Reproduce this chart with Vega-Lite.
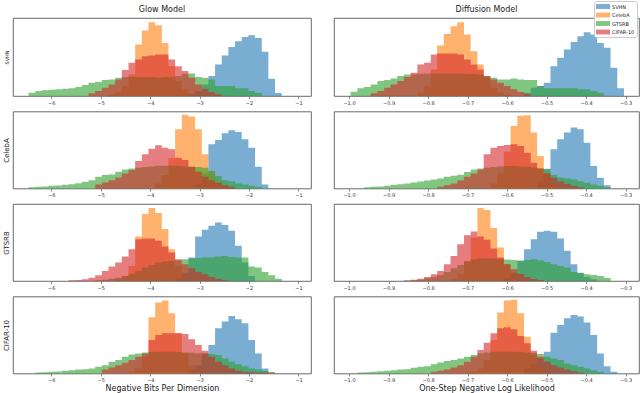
{
"$schema": "https://vega.github.io/schema/vega-lite/v6.json",
"padding": {"left": 1, "top": 0, "right": 0, "bottom": 0},
"background": "white",
"config": {
 "font": "DejaVu Sans",
 "view": {"stroke": "#444", "strokeWidth": 0.8},
 "axis": {"grid": false, "domain": false, "labelFontSize": 5, "labelColor": "#333", "tickSize": 2.5, "tickWidth": 0.6, "tickColor": "#444", "labelPadding": 1.5, "titleFontSize": 8, "titleFontWeight": "normal", "titleColor": "#222", "titlePadding": 1.5},
 "title": {"fontSize": 8, "fontWeight": "normal", "color": "#222", "offset": 4},
 "legend": {"orient": "none", "legendX": 581, "legendY": -17, "symbolType": "M-2,-0.7H2V0.7H-2Z", "symbolSize": 49, "symbolOpacity": 0.6, "symbolStrokeWidth": 0, "labelFontSize": 5, "labelColor": "#222", "labelOffset": 5.5, "symbolOffset": 3.5, "rowPadding": 1.5, "padding": 2, "fillColor": "white", "strokeColor": "#ccc", "cornerRadius": 2}
},
"datasets": {"h": [
{"p":"G1","x":-6.458,"SVHN":0,"CelebA":0,"GTSRB":10,"CIFAR-10":0},
{"p":"G1","x":-6.323,"SVHN":0,"CelebA":0,"GTSRB":15,"CIFAR-10":0},
{"p":"G1","x":-6.189,"SVHN":0,"CelebA":0,"GTSRB":17,"CIFAR-10":0},
{"p":"G1","x":-6.054,"SVHN":0,"CelebA":0,"GTSRB":19,"CIFAR-10":0},
{"p":"G1","x":-5.919,"SVHN":0,"CelebA":0,"GTSRB":20,"CIFAR-10":0},
{"p":"G1","x":-5.785,"SVHN":0,"CelebA":0,"GTSRB":22,"CIFAR-10":0},
{"p":"G1","x":-5.65,"SVHN":0,"CelebA":0,"GTSRB":23,"CIFAR-10":0},
{"p":"G1","x":-5.515,"SVHN":0,"CelebA":0,"GTSRB":27,"CIFAR-10":0},
{"p":"G1","x":-5.38,"SVHN":0,"CelebA":0,"GTSRB":33,"CIFAR-10":0},
{"p":"G1","x":-5.246,"SVHN":0,"CelebA":0,"GTSRB":40,"CIFAR-10":8},
{"p":"G1","x":-5.111,"SVHN":0,"CelebA":0,"GTSRB":43,"CIFAR-10":15},
{"p":"G1","x":-4.976,"SVHN":0,"CelebA":0,"GTSRB":48,"CIFAR-10":25},
{"p":"G1","x":-4.842,"SVHN":0,"CelebA":5,"GTSRB":50,"CIFAR-10":35},
{"p":"G1","x":-4.707,"SVHN":0,"CelebA":12,"GTSRB":55,"CIFAR-10":50},
{"p":"G1","x":-4.572,"SVHN":0,"CelebA":30,"GTSRB":57,"CIFAR-10":78},
{"p":"G1","x":-4.438,"SVHN":0,"CelebA":65,"GTSRB":57,"CIFAR-10":100},
{"p":"G1","x":-4.303,"SVHN":0,"CelebA":155,"GTSRB":57,"CIFAR-10":110},
{"p":"G1","x":-4.168,"SVHN":0,"CelebA":197,"GTSRB":57,"CIFAR-10":120},
{"p":"G1","x":-4.034,"SVHN":0,"CelebA":222,"GTSRB":57,"CIFAR-10":122},
{"p":"G1","x":-3.899,"SVHN":0,"CelebA":213,"GTSRB":56,"CIFAR-10":125},
{"p":"G1","x":-3.764,"SVHN":0,"CelebA":160,"GTSRB":57,"CIFAR-10":125},
{"p":"G1","x":-3.63,"SVHN":0,"CelebA":90,"GTSRB":57,"CIFAR-10":110},
{"p":"G1","x":-3.495,"SVHN":0,"CelebA":45,"GTSRB":60,"CIFAR-10":90},
{"p":"G1","x":-3.36,"SVHN":0,"CelebA":20,"GTSRB":67,"CIFAR-10":75},
{"p":"G1","x":-3.226,"SVHN":5,"CelebA":8,"GTSRB":68,"CIFAR-10":55},
{"p":"G1","x":-3.091,"SVHN":15,"CelebA":3,"GTSRB":57,"CIFAR-10":35},
{"p":"G1","x":-2.956,"SVHN":35,"CelebA":0,"GTSRB":55,"CIFAR-10":22},
{"p":"G1","x":-2.822,"SVHN":60,"CelebA":0,"GTSRB":50,"CIFAR-10":12},
{"p":"G1","x":-2.687,"SVHN":95,"CelebA":0,"GTSRB":30,"CIFAR-10":5},
{"p":"G1","x":-2.552,"SVHN":122,"CelebA":0,"GTSRB":30,"CIFAR-10":0},
{"p":"G1","x":-2.418,"SVHN":148,"CelebA":0,"GTSRB":30,"CIFAR-10":0},
{"p":"G1","x":-2.283,"SVHN":165,"CelebA":0,"GTSRB":23,"CIFAR-10":0},
{"p":"G1","x":-2.148,"SVHN":178,"CelebA":0,"GTSRB":23,"CIFAR-10":0},
{"p":"G1","x":-2.013,"SVHN":183,"CelebA":0,"GTSRB":15,"CIFAR-10":0},
{"p":"G1","x":-1.879,"SVHN":175,"CelebA":0,"GTSRB":10,"CIFAR-10":0},
{"p":"G1","x":-1.744,"SVHN":133,"CelebA":0,"GTSRB":0,"CIFAR-10":0},
{"p":"G1","x":-1.609,"SVHN":52,"CelebA":0,"GTSRB":0,"CIFAR-10":0},
{"p":"G1","x":-1.475,"SVHN":9,"CelebA":0,"GTSRB":0,"CIFAR-10":0},
{"p":"G1","x":-1.34,"SVHN":0,"CelebA":0,"GTSRB":0,"CIFAR-10":0},

{"p":"D1","x":-0.996,"SVHN":0,"CelebA":0,"GTSRB":13,"CIFAR-10":0},
{"p":"D1","x":-0.979,"SVHN":0,"CelebA":0,"GTSRB":23,"CIFAR-10":0},
{"p":"D1","x":-0.962,"SVHN":0,"CelebA":0,"GTSRB":27,"CIFAR-10":0},
{"p":"D1","x":-0.945,"SVHN":0,"CelebA":0,"GTSRB":35,"CIFAR-10":8},
{"p":"D1","x":-0.928,"SVHN":0,"CelebA":0,"GTSRB":45,"CIFAR-10":15},
{"p":"D1","x":-0.911,"SVHN":0,"CelebA":0,"GTSRB":48,"CIFAR-10":25},
{"p":"D1","x":-0.895,"SVHN":0,"CelebA":0,"GTSRB":53,"CIFAR-10":35},
{"p":"D1","x":-0.878,"SVHN":0,"CelebA":0,"GTSRB":60,"CIFAR-10":45},
{"p":"D1","x":-0.861,"SVHN":0,"CelebA":0,"GTSRB":65,"CIFAR-10":57},
{"p":"D1","x":-0.844,"SVHN":0,"CelebA":0,"GTSRB":65,"CIFAR-10":70},
{"p":"D1","x":-0.827,"SVHN":0,"CelebA":10,"GTSRB":67,"CIFAR-10":95},
{"p":"D1","x":-0.81,"SVHN":0,"CelebA":30,"GTSRB":68,"CIFAR-10":100},
{"p":"D1","x":-0.793,"SVHN":0,"CelebA":80,"GTSRB":68,"CIFAR-10":125},
{"p":"D1","x":-0.777,"SVHN":0,"CelebA":152,"GTSRB":68,"CIFAR-10":128},
{"p":"D1","x":-0.76,"SVHN":0,"CelebA":187,"GTSRB":68,"CIFAR-10":128},
{"p":"D1","x":-0.743,"SVHN":0,"CelebA":210,"GTSRB":68,"CIFAR-10":128},
{"p":"D1","x":-0.726,"SVHN":0,"CelebA":222,"GTSRB":67,"CIFAR-10":125},
{"p":"D1","x":-0.709,"SVHN":0,"CelebA":185,"GTSRB":67,"CIFAR-10":110},
{"p":"D1","x":-0.692,"SVHN":0,"CelebA":135,"GTSRB":66,"CIFAR-10":95},
{"p":"D1","x":-0.675,"SVHN":0,"CelebA":95,"GTSRB":65,"CIFAR-10":80},
{"p":"D1","x":-0.659,"SVHN":0,"CelebA":55,"GTSRB":60,"CIFAR-10":60},
{"p":"D1","x":-0.642,"SVHN":0,"CelebA":25,"GTSRB":55,"CIFAR-10":50},
{"p":"D1","x":-0.625,"SVHN":0,"CelebA":10,"GTSRB":50,"CIFAR-10":40},
{"p":"D1","x":-0.608,"SVHN":0,"CelebA":4,"GTSRB":50,"CIFAR-10":30},
{"p":"D1","x":-0.591,"SVHN":0,"CelebA":0,"GTSRB":53,"CIFAR-10":20},
{"p":"D1","x":-0.574,"SVHN":0,"CelebA":0,"GTSRB":50,"CIFAR-10":12},
{"p":"D1","x":-0.557,"SVHN":10,"CelebA":0,"GTSRB":48,"CIFAR-10":6},
{"p":"D1","x":-0.54,"SVHN":25,"CelebA":0,"GTSRB":48,"CIFAR-10":0},
{"p":"D1","x":-0.524,"SVHN":30,"CelebA":0,"GTSRB":30,"CIFAR-10":0},
{"p":"D1","x":-0.507,"SVHN":40,"CelebA":0,"GTSRB":23,"CIFAR-10":0},
{"p":"D1","x":-0.49,"SVHN":90,"CelebA":0,"GTSRB":23,"CIFAR-10":0},
{"p":"D1","x":-0.473,"SVHN":115,"CelebA":0,"GTSRB":23,"CIFAR-10":0},
{"p":"D1","x":-0.456,"SVHN":140,"CelebA":0,"GTSRB":23,"CIFAR-10":0},
{"p":"D1","x":-0.439,"SVHN":163,"CelebA":0,"GTSRB":23,"CIFAR-10":0},
{"p":"D1","x":-0.422,"SVHN":180,"CelebA":0,"GTSRB":20,"CIFAR-10":0},
{"p":"D1","x":-0.406,"SVHN":192,"CelebA":0,"GTSRB":20,"CIFAR-10":0},
{"p":"D1","x":-0.389,"SVHN":185,"CelebA":0,"GTSRB":15,"CIFAR-10":0},
{"p":"D1","x":-0.372,"SVHN":160,"CelebA":0,"GTSRB":10,"CIFAR-10":0},
{"p":"D1","x":-0.355,"SVHN":145,"CelebA":0,"GTSRB":0,"CIFAR-10":0},
{"p":"D1","x":-0.338,"SVHN":85,"CelebA":0,"GTSRB":0,"CIFAR-10":0},
{"p":"D1","x":-0.321,"SVHN":23,"CelebA":0,"GTSRB":0,"CIFAR-10":0},
{"p":"D1","x":-0.304,"SVHN":0,"CelebA":0,"GTSRB":0,"CIFAR-10":0},

{"p":"G2","x":-6.458,"SVHN":0,"CelebA":0,"GTSRB":4,"CIFAR-10":0},
{"p":"G2","x":-6.323,"SVHN":0,"CelebA":0,"GTSRB":5,"CIFAR-10":0},
{"p":"G2","x":-6.189,"SVHN":0,"CelebA":0,"GTSRB":6,"CIFAR-10":0},
{"p":"G2","x":-6.054,"SVHN":0,"CelebA":0,"GTSRB":8,"CIFAR-10":0},
{"p":"G2","x":-5.919,"SVHN":0,"CelebA":0,"GTSRB":9,"CIFAR-10":0},
{"p":"G2","x":-5.785,"SVHN":0,"CelebA":0,"GTSRB":11,"CIFAR-10":0},
{"p":"G2","x":-5.65,"SVHN":0,"CelebA":0,"GTSRB":13,"CIFAR-10":0},
{"p":"G2","x":-5.515,"SVHN":0,"CelebA":0,"GTSRB":16,"CIFAR-10":0},
{"p":"G2","x":-5.38,"SVHN":0,"CelebA":0,"GTSRB":20,"CIFAR-10":0},
{"p":"G2","x":-5.246,"SVHN":0,"CelebA":0,"GTSRB":25,"CIFAR-10":0},
{"p":"G2","x":-5.111,"SVHN":0,"CelebA":0,"GTSRB":35,"CIFAR-10":12},
{"p":"G2","x":-4.976,"SVHN":0,"CelebA":0,"GTSRB":40,"CIFAR-10":18},
{"p":"G2","x":-4.842,"SVHN":0,"CelebA":0,"GTSRB":42,"CIFAR-10":25},
{"p":"G2","x":-4.707,"SVHN":0,"CelebA":0,"GTSRB":50,"CIFAR-10":33},
{"p":"G2","x":-4.572,"SVHN":0,"CelebA":0,"GTSRB":57,"CIFAR-10":45},
{"p":"G2","x":-4.438,"SVHN":0,"CelebA":0,"GTSRB":60,"CIFAR-10":55},
{"p":"G2","x":-4.303,"SVHN":0,"CelebA":0,"GTSRB":62,"CIFAR-10":82},
{"p":"G2","x":-4.168,"SVHN":0,"CelebA":0,"GTSRB":64,"CIFAR-10":102},
{"p":"G2","x":-4.034,"SVHN":0,"CelebA":0,"GTSRB":66,"CIFAR-10":119},
{"p":"G2","x":-3.899,"SVHN":0,"CelebA":15,"GTSRB":68,"CIFAR-10":129},
{"p":"G2","x":-3.764,"SVHN":0,"CelebA":40,"GTSRB":68,"CIFAR-10":122},
{"p":"G2","x":-3.63,"SVHN":0,"CelebA":90,"GTSRB":68,"CIFAR-10":117},
{"p":"G2","x":-3.495,"SVHN":0,"CelebA":177,"GTSRB":67,"CIFAR-10":92},
{"p":"G2","x":-3.36,"SVHN":0,"CelebA":220,"GTSRB":66,"CIFAR-10":85},
{"p":"G2","x":-3.226,"SVHN":0,"CelebA":215,"GTSRB":65,"CIFAR-10":65},
{"p":"G2","x":-3.091,"SVHN":15,"CelebA":177,"GTSRB":64,"CIFAR-10":50},
{"p":"G2","x":-2.956,"SVHN":45,"CelebA":102,"GTSRB":62,"CIFAR-10":35},
{"p":"G2","x":-2.822,"SVHN":132,"CelebA":50,"GTSRB":52,"CIFAR-10":25},
{"p":"G2","x":-2.687,"SVHN":145,"CelebA":20,"GTSRB":37,"CIFAR-10":17},
{"p":"G2","x":-2.552,"SVHN":165,"CelebA":8,"GTSRB":25,"CIFAR-10":10},
{"p":"G2","x":-2.418,"SVHN":174,"CelebA":0,"GTSRB":22,"CIFAR-10":5},
{"p":"G2","x":-2.283,"SVHN":169,"CelebA":0,"GTSRB":15,"CIFAR-10":0},
{"p":"G2","x":-2.148,"SVHN":147,"CelebA":0,"GTSRB":12,"CIFAR-10":0},
{"p":"G2","x":-2.013,"SVHN":122,"CelebA":0,"GTSRB":8,"CIFAR-10":0},
{"p":"G2","x":-1.879,"SVHN":65,"CelebA":0,"GTSRB":5,"CIFAR-10":0},
{"p":"G2","x":-1.744,"SVHN":12,"CelebA":0,"GTSRB":0,"CIFAR-10":0},
{"p":"G2","x":-1.609,"SVHN":0,"CelebA":0,"GTSRB":0,"CIFAR-10":0},

{"p":"D2","x":-0.962,"SVHN":0,"CelebA":0,"GTSRB":4,"CIFAR-10":0},
{"p":"D2","x":-0.945,"SVHN":0,"CelebA":0,"GTSRB":5,"CIFAR-10":0},
{"p":"D2","x":-0.928,"SVHN":0,"CelebA":0,"GTSRB":6,"CIFAR-10":0},
{"p":"D2","x":-0.911,"SVHN":0,"CelebA":0,"GTSRB":8,"CIFAR-10":0},
{"p":"D2","x":-0.895,"SVHN":0,"CelebA":0,"GTSRB":11,"CIFAR-10":0},
{"p":"D2","x":-0.878,"SVHN":0,"CelebA":0,"GTSRB":13,"CIFAR-10":0},
{"p":"D2","x":-0.861,"SVHN":0,"CelebA":0,"GTSRB":15,"CIFAR-10":0},
{"p":"D2","x":-0.844,"SVHN":0,"CelebA":0,"GTSRB":18,"CIFAR-10":0},
{"p":"D2","x":-0.827,"SVHN":0,"CelebA":0,"GTSRB":21,"CIFAR-10":0},
{"p":"D2","x":-0.81,"SVHN":0,"CelebA":0,"GTSRB":24,"CIFAR-10":0},
{"p":"D2","x":-0.793,"SVHN":0,"CelebA":0,"GTSRB":27,"CIFAR-10":0},
{"p":"D2","x":-0.777,"SVHN":0,"CelebA":0,"GTSRB":30,"CIFAR-10":5},
{"p":"D2","x":-0.76,"SVHN":0,"CelebA":0,"GTSRB":35,"CIFAR-10":10},
{"p":"D2","x":-0.743,"SVHN":0,"CelebA":0,"GTSRB":38,"CIFAR-10":15},
{"p":"D2","x":-0.726,"SVHN":0,"CelebA":0,"GTSRB":41,"CIFAR-10":25},
{"p":"D2","x":-0.709,"SVHN":0,"CelebA":0,"GTSRB":49,"CIFAR-10":35},
{"p":"D2","x":-0.692,"SVHN":0,"CelebA":0,"GTSRB":57,"CIFAR-10":45},
{"p":"D2","x":-0.675,"SVHN":0,"CelebA":0,"GTSRB":60,"CIFAR-10":57},
{"p":"D2","x":-0.659,"SVHN":0,"CelebA":0,"GTSRB":62,"CIFAR-10":102},
{"p":"D2","x":-0.642,"SVHN":0,"CelebA":15,"GTSRB":64,"CIFAR-10":122},
{"p":"D2","x":-0.625,"SVHN":0,"CelebA":45,"GTSRB":66,"CIFAR-10":127},
{"p":"D2","x":-0.608,"SVHN":0,"CelebA":110,"GTSRB":67,"CIFAR-10":130},
{"p":"D2","x":-0.591,"SVHN":0,"CelebA":187,"GTSRB":67,"CIFAR-10":132},
{"p":"D2","x":-0.574,"SVHN":0,"CelebA":217,"GTSRB":66,"CIFAR-10":127},
{"p":"D2","x":-0.557,"SVHN":0,"CelebA":219,"GTSRB":65,"CIFAR-10":107},
{"p":"D2","x":-0.54,"SVHN":0,"CelebA":167,"GTSRB":63,"CIFAR-10":77},
{"p":"D2","x":-0.524,"SVHN":20,"CelebA":97,"GTSRB":60,"CIFAR-10":60},
{"p":"D2","x":-0.507,"SVHN":59,"CelebA":45,"GTSRB":57,"CIFAR-10":45},
{"p":"D2","x":-0.49,"SVHN":117,"CelebA":15,"GTSRB":40,"CIFAR-10":32},
{"p":"D2","x":-0.473,"SVHN":147,"CelebA":5,"GTSRB":33,"CIFAR-10":22},
{"p":"D2","x":-0.456,"SVHN":167,"CelebA":0,"GTSRB":30,"CIFAR-10":14},
{"p":"D2","x":-0.439,"SVHN":182,"CelebA":0,"GTSRB":27,"CIFAR-10":8},
{"p":"D2","x":-0.422,"SVHN":177,"CelebA":0,"GTSRB":22,"CIFAR-10":4},
{"p":"D2","x":-0.406,"SVHN":137,"CelebA":0,"GTSRB":17,"CIFAR-10":0},
{"p":"D2","x":-0.389,"SVHN":67,"CelebA":0,"GTSRB":12,"CIFAR-10":0},
{"p":"D2","x":-0.372,"SVHN":32,"CelebA":0,"GTSRB":8,"CIFAR-10":0},
{"p":"D2","x":-0.355,"SVHN":10,"CelebA":0,"GTSRB":4,"CIFAR-10":0},
{"p":"D2","x":-0.338,"SVHN":0,"CelebA":0,"GTSRB":0,"CIFAR-10":0},

{"p":"G3","x":-5.65,"SVHN":0,"CelebA":0,"GTSRB":0,"CIFAR-10":2},
{"p":"G3","x":-5.515,"SVHN":0,"CelebA":0,"GTSRB":0,"CIFAR-10":3},
{"p":"G3","x":-5.38,"SVHN":0,"CelebA":0,"GTSRB":0,"CIFAR-10":5},
{"p":"G3","x":-5.246,"SVHN":0,"CelebA":0,"GTSRB":0,"CIFAR-10":10},
{"p":"G3","x":-5.111,"SVHN":0,"CelebA":0,"GTSRB":2,"CIFAR-10":17},
{"p":"G3","x":-4.976,"SVHN":0,"CelebA":0,"GTSRB":4,"CIFAR-10":30},
{"p":"G3","x":-4.842,"SVHN":0,"CelebA":0,"GTSRB":7,"CIFAR-10":43},
{"p":"G3","x":-4.707,"SVHN":0,"CelebA":5,"GTSRB":10,"CIFAR-10":55},
{"p":"G3","x":-4.572,"SVHN":0,"CelebA":15,"GTSRB":15,"CIFAR-10":73},
{"p":"G3","x":-4.438,"SVHN":0,"CelebA":45,"GTSRB":22,"CIFAR-10":95},
{"p":"G3","x":-4.303,"SVHN":0,"CelebA":133,"GTSRB":30,"CIFAR-10":125},
{"p":"G3","x":-4.168,"SVHN":0,"CelebA":200,"GTSRB":40,"CIFAR-10":127},
{"p":"G3","x":-4.034,"SVHN":0,"CelebA":218,"GTSRB":48,"CIFAR-10":127},
{"p":"G3","x":-3.899,"SVHN":0,"CelebA":203,"GTSRB":55,"CIFAR-10":120},
{"p":"G3","x":-3.764,"SVHN":0,"CelebA":155,"GTSRB":58,"CIFAR-10":103},
{"p":"G3","x":-3.63,"SVHN":0,"CelebA":95,"GTSRB":60,"CIFAR-10":85},
{"p":"G3","x":-3.495,"SVHN":8,"CelebA":45,"GTSRB":62,"CIFAR-10":65},
{"p":"G3","x":-3.36,"SVHN":25,"CelebA":15,"GTSRB":65,"CIFAR-10":50},
{"p":"G3","x":-3.226,"SVHN":70,"CelebA":5,"GTSRB":67,"CIFAR-10":38},
{"p":"G3","x":-3.091,"SVHN":133,"CelebA":0,"GTSRB":69,"CIFAR-10":28},
{"p":"G3","x":-2.956,"SVHN":153,"CelebA":0,"GTSRB":70,"CIFAR-10":20},
{"p":"G3","x":-2.822,"SVHN":165,"CelebA":0,"GTSRB":71,"CIFAR-10":12},
{"p":"G3","x":-2.687,"SVHN":175,"CelebA":0,"GTSRB":73,"CIFAR-10":7},
{"p":"G3","x":-2.552,"SVHN":167,"CelebA":0,"GTSRB":75,"CIFAR-10":3},
{"p":"G3","x":-2.418,"SVHN":150,"CelebA":0,"GTSRB":72,"CIFAR-10":0},
{"p":"G3","x":-2.283,"SVHN":105,"CelebA":0,"GTSRB":70,"CIFAR-10":0},
{"p":"G3","x":-2.148,"SVHN":55,"CelebA":0,"GTSRB":70,"CIFAR-10":0},
{"p":"G3","x":-2.013,"SVHN":15,"CelebA":0,"GTSRB":43,"CIFAR-10":0},
{"p":"G3","x":-1.879,"SVHN":0,"CelebA":0,"GTSRB":40,"CIFAR-10":0},
{"p":"G3","x":-1.744,"SVHN":0,"CelebA":0,"GTSRB":27,"CIFAR-10":0},
{"p":"G3","x":-1.609,"SVHN":0,"CelebA":0,"GTSRB":17,"CIFAR-10":0},
{"p":"G3","x":-1.475,"SVHN":0,"CelebA":0,"GTSRB":7,"CIFAR-10":0},
{"p":"G3","x":-1.34,"SVHN":0,"CelebA":0,"GTSRB":0,"CIFAR-10":0},

{"p":"D3","x":-0.861,"SVHN":0,"CelebA":0,"GTSRB":0,"CIFAR-10":2},
{"p":"D3","x":-0.844,"SVHN":0,"CelebA":0,"GTSRB":2,"CIFAR-10":4},
{"p":"D3","x":-0.827,"SVHN":0,"CelebA":0,"GTSRB":4,"CIFAR-10":7},
{"p":"D3","x":-0.81,"SVHN":0,"CelebA":0,"GTSRB":8,"CIFAR-10":12},
{"p":"D3","x":-0.793,"SVHN":0,"CelebA":0,"GTSRB":12,"CIFAR-10":20},
{"p":"D3","x":-0.777,"SVHN":0,"CelebA":0,"GTSRB":18,"CIFAR-10":30},
{"p":"D3","x":-0.76,"SVHN":0,"CelebA":0,"GTSRB":27,"CIFAR-10":50},
{"p":"D3","x":-0.743,"SVHN":0,"CelebA":5,"GTSRB":38,"CIFAR-10":75},
{"p":"D3","x":-0.726,"SVHN":0,"CelebA":20,"GTSRB":48,"CIFAR-10":110},
{"p":"D3","x":-0.709,"SVHN":0,"CelebA":60,"GTSRB":58,"CIFAR-10":137},
{"p":"D3","x":-0.692,"SVHN":0,"CelebA":130,"GTSRB":65,"CIFAR-10":148},
{"p":"D3","x":-0.675,"SVHN":0,"CelebA":218,"GTSRB":68,"CIFAR-10":133},
{"p":"D3","x":-0.659,"SVHN":0,"CelebA":212,"GTSRB":68,"CIFAR-10":123},
{"p":"D3","x":-0.642,"SVHN":0,"CelebA":158,"GTSRB":67,"CIFAR-10":97},
{"p":"D3","x":-0.625,"SVHN":0,"CelebA":100,"GTSRB":66,"CIFAR-10":70},
{"p":"D3","x":-0.608,"SVHN":10,"CelebA":50,"GTSRB":64,"CIFAR-10":50},
{"p":"D3","x":-0.591,"SVHN":25,"CelebA":20,"GTSRB":63,"CIFAR-10":35},
{"p":"D3","x":-0.574,"SVHN":60,"CelebA":6,"GTSRB":61,"CIFAR-10":22},
{"p":"D3","x":-0.557,"SVHN":95,"CelebA":0,"GTSRB":63,"CIFAR-10":12},
{"p":"D3","x":-0.54,"SVHN":125,"CelebA":0,"GTSRB":65,"CIFAR-10":6},
{"p":"D3","x":-0.524,"SVHN":147,"CelebA":0,"GTSRB":62,"CIFAR-10":3},
{"p":"D3","x":-0.507,"SVHN":150,"CelebA":0,"GTSRB":57,"CIFAR-10":0},
{"p":"D3","x":-0.49,"SVHN":147,"CelebA":0,"GTSRB":50,"CIFAR-10":0},
{"p":"D3","x":-0.473,"SVHN":127,"CelebA":0,"GTSRB":45,"CIFAR-10":0},
{"p":"D3","x":-0.456,"SVHN":90,"CelebA":0,"GTSRB":40,"CIFAR-10":0},
{"p":"D3","x":-0.439,"SVHN":50,"CelebA":0,"GTSRB":27,"CIFAR-10":0},
{"p":"D3","x":-0.422,"SVHN":25,"CelebA":0,"GTSRB":24,"CIFAR-10":0},
{"p":"D3","x":-0.406,"SVHN":12,"CelebA":0,"GTSRB":20,"CIFAR-10":0},
{"p":"D3","x":-0.389,"SVHN":5,"CelebA":0,"GTSRB":18,"CIFAR-10":0},
{"p":"D3","x":-0.372,"SVHN":0,"CelebA":0,"GTSRB":15,"CIFAR-10":0},
{"p":"D3","x":-0.355,"SVHN":0,"CelebA":0,"GTSRB":9,"CIFAR-10":0},
{"p":"D3","x":-0.338,"SVHN":0,"CelebA":0,"GTSRB":0,"CIFAR-10":0},

{"p":"G4","x":-6.323,"SVHN":0,"CelebA":0,"GTSRB":3,"CIFAR-10":0},
{"p":"G4","x":-6.189,"SVHN":0,"CelebA":0,"GTSRB":4,"CIFAR-10":0},
{"p":"G4","x":-6.054,"SVHN":0,"CelebA":0,"GTSRB":5,"CIFAR-10":0},
{"p":"G4","x":-5.919,"SVHN":0,"CelebA":0,"GTSRB":6,"CIFAR-10":0},
{"p":"G4","x":-5.785,"SVHN":0,"CelebA":0,"GTSRB":8,"CIFAR-10":0},
{"p":"G4","x":-5.65,"SVHN":0,"CelebA":0,"GTSRB":10,"CIFAR-10":0},
{"p":"G4","x":-5.515,"SVHN":0,"CelebA":0,"GTSRB":12,"CIFAR-10":0},
{"p":"G4","x":-5.38,"SVHN":0,"CelebA":0,"GTSRB":13,"CIFAR-10":0},
{"p":"G4","x":-5.246,"SVHN":0,"CelebA":0,"GTSRB":15,"CIFAR-10":0},
{"p":"G4","x":-5.111,"SVHN":0,"CelebA":0,"GTSRB":20,"CIFAR-10":0},
{"p":"G4","x":-4.976,"SVHN":0,"CelebA":0,"GTSRB":25,"CIFAR-10":12},
{"p":"G4","x":-4.842,"SVHN":0,"CelebA":0,"GTSRB":35,"CIFAR-10":18},
{"p":"G4","x":-4.707,"SVHN":0,"CelebA":0,"GTSRB":40,"CIFAR-10":25},
{"p":"G4","x":-4.572,"SVHN":0,"CelebA":0,"GTSRB":50,"CIFAR-10":32},
{"p":"G4","x":-4.438,"SVHN":0,"CelebA":5,"GTSRB":57,"CIFAR-10":40},
{"p":"G4","x":-4.303,"SVHN":0,"CelebA":15,"GTSRB":60,"CIFAR-10":50},
{"p":"G4","x":-4.168,"SVHN":0,"CelebA":50,"GTSRB":63,"CIFAR-10":60},
{"p":"G4","x":-4.034,"SVHN":0,"CelebA":168,"GTSRB":64,"CIFAR-10":100},
{"p":"G4","x":-3.899,"SVHN":0,"CelebA":212,"GTSRB":65,"CIFAR-10":115},
{"p":"G4","x":-3.764,"SVHN":0,"CelebA":218,"GTSRB":65,"CIFAR-10":120},
{"p":"G4","x":-3.63,"SVHN":0,"CelebA":180,"GTSRB":65,"CIFAR-10":120},
{"p":"G4","x":-3.495,"SVHN":0,"CelebA":120,"GTSRB":64,"CIFAR-10":120},
{"p":"G4","x":-3.36,"SVHN":0,"CelebA":60,"GTSRB":63,"CIFAR-10":118},
{"p":"G4","x":-3.226,"SVHN":10,"CelebA":25,"GTSRB":62,"CIFAR-10":102},
{"p":"G4","x":-3.091,"SVHN":25,"CelebA":8,"GTSRB":60,"CIFAR-10":85},
{"p":"G4","x":-2.956,"SVHN":60,"CelebA":0,"GTSRB":60,"CIFAR-10":68},
{"p":"G4","x":-2.822,"SVHN":85,"CelebA":0,"GTSRB":58,"CIFAR-10":50},
{"p":"G4","x":-2.687,"SVHN":135,"CelebA":0,"GTSRB":55,"CIFAR-10":35},
{"p":"G4","x":-2.552,"SVHN":155,"CelebA":0,"GTSRB":45,"CIFAR-10":25},
{"p":"G4","x":-2.418,"SVHN":172,"CelebA":0,"GTSRB":35,"CIFAR-10":15},
{"p":"G4","x":-2.283,"SVHN":162,"CelebA":0,"GTSRB":28,"CIFAR-10":8},
{"p":"G4","x":-2.148,"SVHN":150,"CelebA":0,"GTSRB":22,"CIFAR-10":5},
{"p":"G4","x":-2.013,"SVHN":100,"CelebA":0,"GTSRB":15,"CIFAR-10":4},
{"p":"G4","x":-1.879,"SVHN":60,"CelebA":0,"GTSRB":12,"CIFAR-10":3},
{"p":"G4","x":-1.744,"SVHN":15,"CelebA":0,"GTSRB":8,"CIFAR-10":3},
{"p":"G4","x":-1.609,"SVHN":0,"CelebA":0,"GTSRB":4,"CIFAR-10":3},
{"p":"G4","x":-1.475,"SVHN":0,"CelebA":0,"GTSRB":0,"CIFAR-10":0},

{"p":"D4","x":-0.979,"SVHN":0,"CelebA":0,"GTSRB":3,"CIFAR-10":0},
{"p":"D4","x":-0.962,"SVHN":0,"CelebA":0,"GTSRB":4,"CIFAR-10":0},
{"p":"D4","x":-0.945,"SVHN":0,"CelebA":0,"GTSRB":5,"CIFAR-10":0},
{"p":"D4","x":-0.928,"SVHN":0,"CelebA":0,"GTSRB":7,"CIFAR-10":0},
{"p":"D4","x":-0.911,"SVHN":0,"CelebA":0,"GTSRB":8,"CIFAR-10":0},
{"p":"D4","x":-0.895,"SVHN":0,"CelebA":0,"GTSRB":10,"CIFAR-10":0},
{"p":"D4","x":-0.878,"SVHN":0,"CelebA":0,"GTSRB":12,"CIFAR-10":0},
{"p":"D4","x":-0.861,"SVHN":0,"CelebA":0,"GTSRB":13,"CIFAR-10":0},
{"p":"D4","x":-0.844,"SVHN":0,"CelebA":0,"GTSRB":17,"CIFAR-10":0},
{"p":"D4","x":-0.827,"SVHN":0,"CelebA":0,"GTSRB":20,"CIFAR-10":0},
{"p":"D4","x":-0.81,"SVHN":0,"CelebA":0,"GTSRB":22,"CIFAR-10":0},
{"p":"D4","x":-0.793,"SVHN":0,"CelebA":0,"GTSRB":28,"CIFAR-10":5},
{"p":"D4","x":-0.777,"SVHN":0,"CelebA":0,"GTSRB":33,"CIFAR-10":8},
{"p":"D4","x":-0.76,"SVHN":0,"CelebA":0,"GTSRB":37,"CIFAR-10":12},
{"p":"D4","x":-0.743,"SVHN":0,"CelebA":0,"GTSRB":40,"CIFAR-10":18},
{"p":"D4","x":-0.726,"SVHN":0,"CelebA":0,"GTSRB":45,"CIFAR-10":25},
{"p":"D4","x":-0.709,"SVHN":0,"CelebA":0,"GTSRB":50,"CIFAR-10":35},
{"p":"D4","x":-0.692,"SVHN":0,"CelebA":5,"GTSRB":55,"CIFAR-10":50},
{"p":"D4","x":-0.675,"SVHN":0,"CelebA":15,"GTSRB":60,"CIFAR-10":70},
{"p":"D4","x":-0.659,"SVHN":0,"CelebA":40,"GTSRB":63,"CIFAR-10":92},
{"p":"D4","x":-0.642,"SVHN":0,"CelebA":100,"GTSRB":65,"CIFAR-10":120},
{"p":"D4","x":-0.625,"SVHN":0,"CelebA":182,"GTSRB":65,"CIFAR-10":135},
{"p":"D4","x":-0.608,"SVHN":0,"CelebA":218,"GTSRB":65,"CIFAR-10":138},
{"p":"D4","x":-0.591,"SVHN":0,"CelebA":220,"GTSRB":65,"CIFAR-10":132},
{"p":"D4","x":-0.574,"SVHN":0,"CelebA":180,"GTSRB":64,"CIFAR-10":112},
{"p":"D4","x":-0.557,"SVHN":15,"CelebA":110,"GTSRB":63,"CIFAR-10":90},
{"p":"D4","x":-0.54,"SVHN":30,"CelebA":55,"GTSRB":62,"CIFAR-10":68},
{"p":"D4","x":-0.524,"SVHN":45,"CelebA":20,"GTSRB":58,"CIFAR-10":50},
{"p":"D4","x":-0.507,"SVHN":65,"CelebA":6,"GTSRB":50,"CIFAR-10":35},
{"p":"D4","x":-0.49,"SVHN":122,"CelebA":0,"GTSRB":45,"CIFAR-10":25},
{"p":"D4","x":-0.473,"SVHN":145,"CelebA":0,"GTSRB":40,"CIFAR-10":18},
{"p":"D4","x":-0.456,"SVHN":165,"CelebA":0,"GTSRB":30,"CIFAR-10":12},
{"p":"D4","x":-0.439,"SVHN":175,"CelebA":0,"GTSRB":25,"CIFAR-10":7},
{"p":"D4","x":-0.422,"SVHN":170,"CelebA":0,"GTSRB":20,"CIFAR-10":3},
{"p":"D4","x":-0.406,"SVHN":152,"CelebA":0,"GTSRB":15,"CIFAR-10":0},
{"p":"D4","x":-0.389,"SVHN":115,"CelebA":0,"GTSRB":10,"CIFAR-10":0},
{"p":"D4","x":-0.372,"SVHN":60,"CelebA":0,"GTSRB":5,"CIFAR-10":0},
{"p":"D4","x":-0.355,"SVHN":22,"CelebA":0,"GTSRB":0,"CIFAR-10":0},
{"p":"D4","x":-0.338,"SVHN":5,"CelebA":0,"GTSRB":0,"CIFAR-10":0},
{"p":"D4","x":-0.321,"SVHN":0,"CelebA":0,"GTSRB":0,"CIFAR-10":0}
]},
"data": {"name": "h"},
"spacing": 4.5,
"vconcat": [
 {"spacing": 21,
  "hconcat": [
  {"width": 298, "height": 78, "title": {"text": "Glow Model"},
   "transform": [{"filter": "datum.p == 'G1'"}, {"fold": ["SVHN","CelebA","GTSRB","CIFAR-10"], "as": ["s","v"]}],
   "mark": {"type": "area", "interpolate": "step-after", "opacity": 0.6},
   "encoding": {
    "x": {"field": "x", "type": "quantitative", "scale": {"domain": [-6.774, -0.747], "nice": false, "zero": false}, "axis": {"values": [-6,-5,-4,-3,-2,-1], "format": "d", "title": null}},
    "y": {"field": "v", "type": "quantitative", "stack": null, "scale": {"domain": [0, 235], "nice": false}, "axis": {"title": "SVHN", "labels": false, "ticks": false, "titlePadding": 4, "titleFontSize": 5}},
    "color": {"field": "s", "type": "nominal", "scale": {"domain": ["SVHN","CelebA","GTSRB","CIFAR-10"], "range": ["#1f77b4","#ff7f0e","#2ca02c","#d62728"]}, "legend": {"title": null}}
   }},
  {"width": 305, "height": 78, "title": {"text": "Diffusion Model"},
   "transform": [{"filter": "datum.p == 'D1'"}, {"fold": ["SVHN","CelebA","GTSRB","CIFAR-10"], "as": ["s","v"]}],
   "mark": {"type": "area", "interpolate": "step-after", "opacity": 0.6},
   "encoding": {
    "x": {"field": "x", "type": "quantitative", "scale": {"domain": [-1.038, -0.266], "nice": false, "zero": false}, "axis": {"values": [-1.0,-0.9,-0.8,-0.7,-0.6,-0.5,-0.4,-0.3], "format": ".1f", "title": null}},
    "y": {"field": "v", "type": "quantitative", "stack": null, "scale": {"domain": [0, 235], "nice": false}, "axis": null},
    "color": {"field": "s", "type": "nominal", "scale": {"domain": ["SVHN","CelebA","GTSRB","CIFAR-10"], "range": ["#1f77b4","#ff7f0e","#2ca02c","#d62728"]}, "legend": {"title": null}}
   }}
 ]},
 {"spacing": 21,
  "hconcat": [
  {"width": 298, "height": 77,
   "transform": [{"filter": "datum.p == 'G2'"}, {"fold": ["SVHN","CelebA","GTSRB","CIFAR-10"], "as": ["s","v"]}],
   "mark": {"type": "area", "interpolate": "step-after", "opacity": 0.6},
   "encoding": {
    "x": {"field": "x", "type": "quantitative", "scale": {"domain": [-6.774, -0.747], "nice": false, "zero": false}, "axis": {"values": [-6,-5,-4,-3,-2,-1], "format": "d", "title": null}},
    "y": {"field": "v", "type": "quantitative", "stack": null, "scale": {"domain": [0, 230], "nice": false}, "axis": {"title": "CelebA", "labels": false, "ticks": false, "titlePadding": 4, "titleFontSize": 7}},
    "color": {"field": "s", "type": "nominal", "scale": {"domain": ["SVHN","CelebA","GTSRB","CIFAR-10"], "range": ["#1f77b4","#ff7f0e","#2ca02c","#d62728"]}, "legend": {"title": null}}
   }},
  {"width": 305, "height": 77,
   "transform": [{"filter": "datum.p == 'D2'"}, {"fold": ["SVHN","CelebA","GTSRB","CIFAR-10"], "as": ["s","v"]}],
   "mark": {"type": "area", "interpolate": "step-after", "opacity": 0.6},
   "encoding": {
    "x": {"field": "x", "type": "quantitative", "scale": {"domain": [-1.038, -0.266], "nice": false, "zero": false}, "axis": {"values": [-1.0,-0.9,-0.8,-0.7,-0.6,-0.5,-0.4,-0.3], "format": ".1f", "title": null}},
    "y": {"field": "v", "type": "quantitative", "stack": null, "scale": {"domain": [0, 230], "nice": false}, "axis": null},
    "color": {"field": "s", "type": "nominal", "scale": {"domain": ["SVHN","CelebA","GTSRB","CIFAR-10"], "range": ["#1f77b4","#ff7f0e","#2ca02c","#d62728"]}, "legend": {"title": null}}
   }}
 ]},
 {"spacing": 21,
  "hconcat": [
  {"width": 298, "height": 77,
   "transform": [{"filter": "datum.p == 'G3'"}, {"fold": ["SVHN","CelebA","GTSRB","CIFAR-10"], "as": ["s","v"]}],
   "mark": {"type": "area", "interpolate": "step-after", "opacity": 0.6},
   "encoding": {
    "x": {"field": "x", "type": "quantitative", "scale": {"domain": [-6.774, -0.747], "nice": false, "zero": false}, "axis": {"values": [-6,-5,-4,-3,-2,-1], "format": "d", "title": null}},
    "y": {"field": "v", "type": "quantitative", "stack": null, "scale": {"domain": [0, 230], "nice": false}, "axis": {"title": "GTSRB", "labels": false, "ticks": false, "titlePadding": 4, "titleFontSize": 7}},
    "color": {"field": "s", "type": "nominal", "scale": {"domain": ["SVHN","CelebA","GTSRB","CIFAR-10"], "range": ["#1f77b4","#ff7f0e","#2ca02c","#d62728"]}, "legend": {"title": null}}
   }},
  {"width": 305, "height": 77,
   "transform": [{"filter": "datum.p == 'D3'"}, {"fold": ["SVHN","CelebA","GTSRB","CIFAR-10"], "as": ["s","v"]}],
   "mark": {"type": "area", "interpolate": "step-after", "opacity": 0.6},
   "encoding": {
    "x": {"field": "x", "type": "quantitative", "scale": {"domain": [-1.038, -0.266], "nice": false, "zero": false}, "axis": {"values": [-1.0,-0.9,-0.8,-0.7,-0.6,-0.5,-0.4,-0.3], "format": ".1f", "title": null}},
    "y": {"field": "v", "type": "quantitative", "stack": null, "scale": {"domain": [0, 230], "nice": false}, "axis": null},
    "color": {"field": "s", "type": "nominal", "scale": {"domain": ["SVHN","CelebA","GTSRB","CIFAR-10"], "range": ["#1f77b4","#ff7f0e","#2ca02c","#d62728"]}, "legend": {"title": null}}
   }}
 ]},
 {"spacing": 21,
  "hconcat": [
  {"width": 298, "height": 77,
   "transform": [{"filter": "datum.p == 'G4'"}, {"fold": ["SVHN","CelebA","GTSRB","CIFAR-10"], "as": ["s","v"]}],
   "mark": {"type": "area", "interpolate": "step-after", "opacity": 0.6},
   "encoding": {
    "x": {"field": "x", "type": "quantitative", "scale": {"domain": [-6.774, -0.747], "nice": false, "zero": false}, "axis": {"values": [-6,-5,-4,-3,-2,-1], "format": "d", "title": "Negative Bits Per Dimension"}},
    "y": {"field": "v", "type": "quantitative", "stack": null, "scale": {"domain": [0, 230], "nice": false}, "axis": {"title": "CIFAR-10", "labels": false, "ticks": false, "titlePadding": 4, "titleFontSize": 7}},
    "color": {"field": "s", "type": "nominal", "scale": {"domain": ["SVHN","CelebA","GTSRB","CIFAR-10"], "range": ["#1f77b4","#ff7f0e","#2ca02c","#d62728"]}, "legend": {"title": null}}
   }},
  {"width": 305, "height": 77,
   "transform": [{"filter": "datum.p == 'D4'"}, {"fold": ["SVHN","CelebA","GTSRB","CIFAR-10"], "as": ["s","v"]}],
   "mark": {"type": "area", "interpolate": "step-after", "opacity": 0.6},
   "encoding": {
    "x": {"field": "x", "type": "quantitative", "scale": {"domain": [-1.038, -0.266], "nice": false, "zero": false}, "axis": {"values": [-1.0,-0.9,-0.8,-0.7,-0.6,-0.5,-0.4,-0.3], "format": ".1f", "title": "One-Step Negative Log Likelihood"}},
    "y": {"field": "v", "type": "quantitative", "stack": null, "scale": {"domain": [0, 230], "nice": false}, "axis": null},
    "color": {"field": "s", "type": "nominal", "scale": {"domain": ["SVHN","CelebA","GTSRB","CIFAR-10"], "range": ["#1f77b4","#ff7f0e","#2ca02c","#d62728"]}, "legend": {"title": null}}
   }}
 ]}
]
}
